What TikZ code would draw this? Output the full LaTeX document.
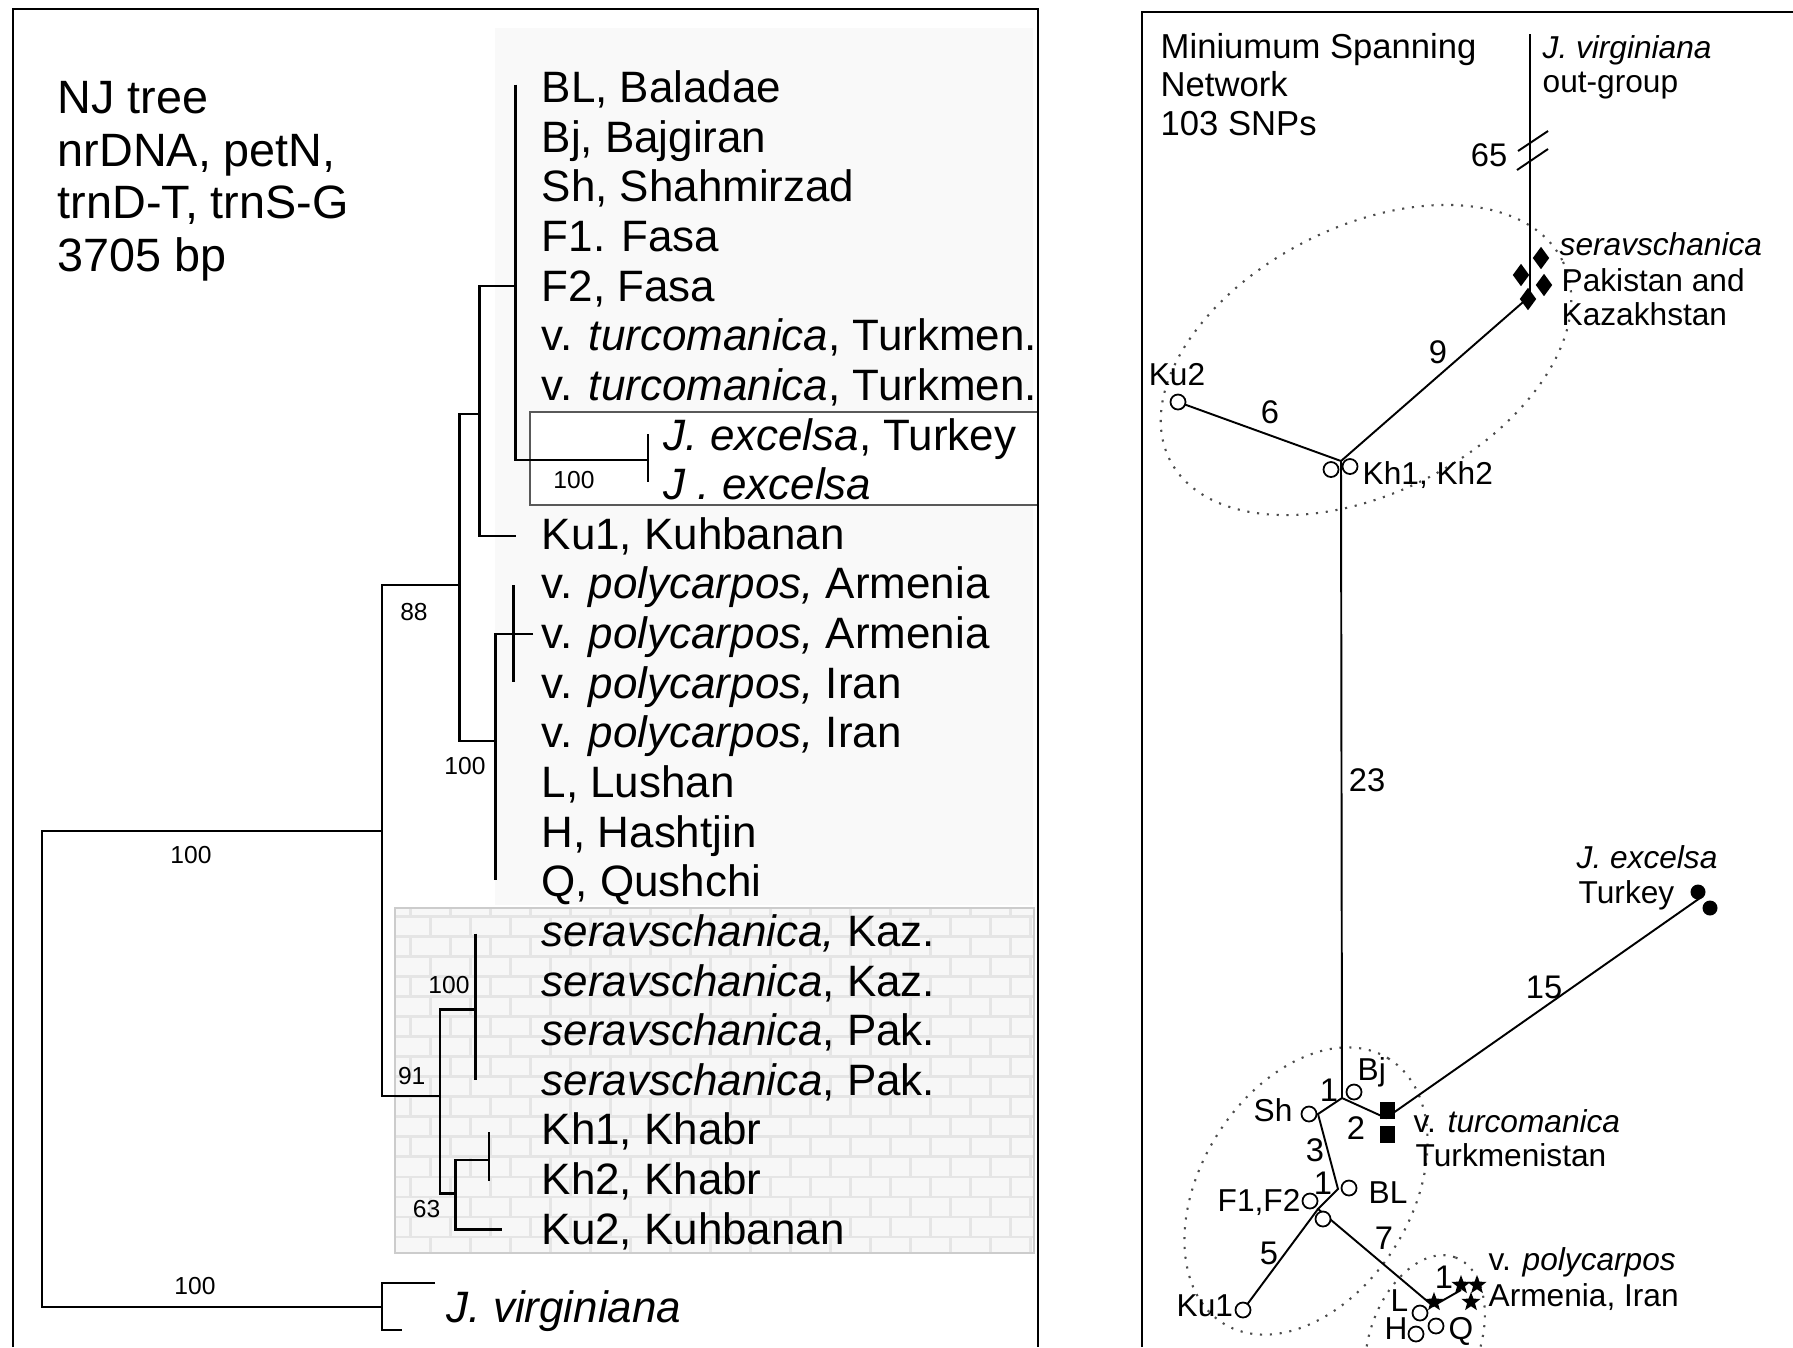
\documentclass[tikz,border=0pt]{standalone}
\usepackage{fontspec}
\setmainfont{Liberation Sans}
\usetikzlibrary{shapes.geometric,patterns}
\begin{document}
\begin{tikzpicture}[x=0.01cm,y=-0.01cm,
  boxline/.style={line width=0.8pt},
  treeline/.style={line width=0.65pt},
  taxon/.style={anchor=base west,inner sep=0pt,font=\fontsize{12.5}{14}\selectfont},
  boot/.style={inner sep=0pt,font=\fontsize{7}{8}\selectfont},
  ttl/.style={anchor=base west,inner sep=0pt,font=\fontsize{13.3}{15}\selectfont},
  nttl/.style={anchor=base west,inner sep=0pt,font=\fontsize{9.85}{11}\selectfont},
  nlab/.style={anchor=base west,inner sep=0pt,font=\fontsize{9}{10}\selectfont},
  nnum/.style={inner sep=0pt,font=\fontsize{9.3}{10}\selectfont},
  netline/.style={line width=0.55pt},
  ring/.style={dash pattern=on 0.6pt off 2.2pt,line width=0.6pt,black!70},
  hap/.style={circle,draw,fill=white,line width=0.5pt,inner sep=0pt,minimum size=0.15cm},
  dia/.style={diamond,fill=black,inner sep=0pt,minimum width=0.17cm,minimum height=0.23cm},
  sq/.style={rectangle,fill=black,inner sep=0pt,minimum width=0.15cm,minimum height=0.17cm},
  fdot/.style={circle,fill=black,inner sep=0pt,minimum size=0.15cm},
  starnode/.style={star,star points=5,star point ratio=2.4,fill=black,inner sep=0pt,minimum size=0.2cm}
]
\useasboundingbox (0,0) rectangle (1793,1347);
\fill[white] (0,0) rectangle (1793,1347);

% ---------- backgrounds of the tree panel ----------
\fill[gray!5] (495,28) rectangle (1033,905);
\draw[black!65,line width=0.5pt,fill=white] (530,412) rectangle (1038,505);
\fill[gray!6] (395,908) rectangle (1034,1253);
\fill[pattern=bricks,pattern color=gray!20] (395,908) rectangle (1034,1253);
\draw[gray!40,line width=0.4pt] (395,908) rectangle (1034,1253);

% ---------- frames ----------
\draw[boxline] (13,1347) -- (13,9) -- (1038,9) -- (1038,1347);
\draw[boxline] (1142,1347) -- (1142,12) -- (1793,12);

% ---------- NJ tree ----------
\draw[treeline] (381.7,831) -- (42,831) -- (42,1307) -- (381.7,1307);
\draw[treeline] (435,1283) -- (381.7,1283) -- (381.7,1330) -- (402,1330);
\draw[treeline] (459.4,585) -- (381.7,585) -- (381.7,1096) -- (440,1096);
\draw[treeline] (479.5,414) -- (459.4,414) -- (459.4,740.7) -- (495.6,740.7);
\draw[treeline] (515.6,285.7) -- (479.5,285.7) -- (479.5,535.7) -- (515.6,535.7);
\draw[treeline] (515.6,84.6) -- (515.6,460) -- (648,460);
\draw[treeline] (648,434) -- (648,482);
\draw[treeline] (533,634) -- (495.6,634) -- (495.6,880);
\draw[treeline] (513.6,585) -- (513.6,681.5);
\draw[treeline] (475.5,1009.4) -- (440,1009.4) -- (440,1193.6) -- (455.4,1193.6);
\draw[treeline] (475.5,933.7) -- (475.5,1080.4);
\draw[treeline] (488.9,1160) -- (455.4,1160) -- (455.4,1229.6) -- (502,1229.6);
\draw[treeline] (488.9,1132) -- (488.9,1180.8);

% titles
\node[ttl] (h1) at (57,113.7) {NJ tree};
\node[ttl] (h2) at (57,166.7) {nrDNA, petN,};
\node[ttl] (h3) at (57,218.7) {trnD-T, trnS-G};
\node[ttl] (h4) at (57,271.7) {3705 bp};

% taxa
\node[taxon] (t1) at (541,102.6) {BL, Baladae};
\node[taxon] (t2) at (541,152.2) {Bj, Bajgiran};
\node[taxon] (t3) at (541,201.9) {Sh, Shahmirzad};
\node[taxon] (t4) at (541,251.5) {F1. Fasa};
\node[taxon] (t5) at (541,301.1) {F2, Fasa};
\node[taxon] (t6) at (541,350.8) {v. \textit{turcomanica}, Turkmen.};
\node[taxon] (t7) at (541,400.4) {v. \textit{turcomanica}, Turkmen.};
\node[taxon] (t8) at (663,450.0) {\textit{J. excelsa}, Turkey};
\node[taxon] (t9) at (663,499.7) {\textit{J . excelsa}};
\node[taxon] (t10) at (541,549.3) {Ku1, Kuhbanan};
\node[taxon] (t11) at (541,598.9) {v. \textit{polycarpos,} Armenia};
\node[taxon] (t12) at (541,648.5) {v. \textit{polycarpos,} Armenia};
\node[taxon] (t13) at (541,698.2) {v. \textit{polycarpos,} Iran};
\node[taxon] (t14) at (541,747.8) {v. \textit{polycarpos,} Iran};
\node[taxon] (t15) at (541,797.4) {L, Lushan};
\node[taxon] (t16) at (541,847.1) {H, Hashtjin};
\node[taxon] (t17) at (541,896.7) {Q, Qushchi};
\node[taxon] (t18) at (541,946.3) {\textit{seravschanica,} Kaz.};
\node[taxon] (t19) at (541,996.0) {\textit{seravschanica}, Kaz.};
\node[taxon] (t20) at (541,1045.6) {\textit{seravschanica}, Pak.};
\node[taxon] (t21) at (541,1095.2) {\textit{seravschanica}, Pak.};
\node[taxon] (t22) at (541,1144.8) {Kh1, Khabr};
\node[taxon] (t23) at (541,1194.5) {Kh2, Khabr};
\node[taxon] (t24) at (541,1244.1) {Ku2, Kuhbanan};
\node[taxon] (tv) at (446,1322.7) {\textit{J. virginiana}};

% support values
\node[boot] (s1) at (574,480) {100};
\node[boot] (s2) at (414,612) {88};
\node[boot] (s3) at (465,766) {100};
\node[boot] (s4) at (191,855) {100};
\node[boot] (s5) at (449,985) {100};
\node[boot] (s6) at (411.7,1076) {91};
\node[boot] (s7) at (426.5,1209.5) {63};
\node[boot] (s8) at (195,1286) {100};

% ---------- spanning network ----------
\node[nttl] (m1) at (1160,58.8) {Miniumum Spanning};
\node[nttl] (m2) at (1160,96.4) {Network};
\node[nttl] (m3) at (1160,135.4) {103 SNPs};

% dotted groups
\begin{scope}[shift={(1366,360)},rotate=27]
  \draw[ring] (0,0) ellipse [x radius=2.2cm,y radius=1.33cm];
\end{scope}
\begin{scope}[shift={(1306,1191)},rotate=58]
  \draw[ring] (0,0) ellipse [x radius=1.56cm,y radius=1.05cm];
\end{scope}
\begin{scope}[shift={(1425,1340)},rotate=70]
  \draw[ring] (0,0) ellipse [x radius=0.88cm,y radius=0.55cm];
\end{scope}

% junctions
\coordinate (vtop) at (1530,34);
\coordinate (sj) at (1530,296);
\coordinate (khj) at (1341,461);
\coordinate (ku2c) at (1178,402);
\coordinate (bjj) at (1342,1098);
\coordinate (shj) at (1318,1114);
\coordinate (blj) at (1338,1189);
\coordinate (fj) at (1318,1209);
\coordinate (ku1c) at (1243,1310);
\coordinate (pj) at (1433,1306);
\coordinate (pj2) at (1461,1290);
\coordinate (tj) at (1386,1118);
\coordinate (ej) at (1700,898);
\coordinate (bk1a) at (1518,151);
\coordinate (bk1b) at (1548,131);
\coordinate (bk2a) at (1517,170);
\coordinate (bk2b) at (1548,149);

% edges
\draw[netline] (vtop) -- (sj) -- (khj) -- (bjj) -- (tj) -- (ej);
\draw[netline] (ku2c) -- (khj);
\draw[netline] (bjj) -- (shj) -- (blj) -- (fj) -- (pj) -- (pj2);
\draw[netline] (fj) -- (ku1c);
\draw[netline] (bk1a) -- (bk1b);
\draw[netline] (bk2a) -- (bk2b);

% haplotypes
\node[dia] (d1) at (1541,258) {};
\node[dia] (d2) at (1521,275) {};
\node[dia] (d3) at (1544,285) {};
\node[dia] (d4) at (1528,299) {};
\node[hap] (kh1) at (1331,469.5) {};
\node[hap] (kh2) at (1350,466.5) {};
\node[hap] (ku2) at (ku2c) {};
\node[hap] (bj) at (1354,1092) {};
\node[hap] (sh) at (1309,1114) {};
\node[hap] (bl) at (1349,1188) {};
\node[hap] (f1) at (1310,1201) {};
\node[hap] (f2) at (1323,1219) {};
\node[hap] (ku1) at (ku1c) {};
\node[hap] (hl) at (1420,1313) {};
\node[hap] (hq) at (1436,1326) {};
\node[hap] (hh) at (1416,1334) {};
\node[starnode] (p0) at (1434,1302) {};
\node[starnode] (p1) at (1461,1285) {};
\node[starnode] (p2) at (1477,1285) {};
\node[starnode] (p3) at (1471,1302) {};
\node[sq] (q1) at (1387,1110) {};
\node[sq] (q2) at (1387,1134) {};
\node[fdot] (e1) at (1698,892) {};
\node[fdot] (e2) at (1710,908) {};

% network labels
\node[nlab] (lv1) at (1542,58) {\textit{J. virginiana}};
\node[nlab] (lv2) at (1542,92.6) {out-group};
\node[nlab] (ls1) at (1559,255.6) {\textit{seravschanica}};
\node[nlab] (ls2) at (1561,291.6) {Pakistan and};
\node[nlab] (ls3) at (1561,325.6) {Kazakhstan};
\node[nlab,anchor=center] (lku2) at (1177,375) {Ku2};
\node[nlab] (lkh) at (1362,484.6) {Kh1, Kh2};
\node[nlab] (le1) at (1576,868.6) {\textit{J. excelsa}};
\node[nlab] (le2) at (1578,903.6) {Turkey};
\node[nlab] (lbj) at (1357,1080) {Bj};
\node[nlab] (lsh) at (1253,1121) {Sh};
\node[nlab] (lt1) at (1413,1132) {v. \textit{turcomanica}};
\node[nlab] (lt2) at (1415,1166) {Turkmenistan};
\node[nlab] (lbl) at (1368,1203) {BL};
\node[nlab] (lf) at (1217,1211.5) {F1,F2};
\node[nlab] (lku1) at (1176,1316.5) {Ku1};
\node[nlab] (lp1) at (1488,1270) {v. \textit{polycarpos}};
\node[nlab] (lp2) at (1488,1306.5) {Armenia, Iran};
\node[nlab] (ll) at (1390,1311) {L};
\node[nlab] (lh) at (1384,1339) {H};
\node[nlab] (lq) at (1448,1339) {Q};

% edge counts
\node[nnum] (n65) at (1489,155) {65};
\node[nnum] (n9) at (1438,352) {9};
\node[nnum] (n6) at (1270,412) {6};
\node[nnum] (n23) at (1367,780) {23};
\node[nnum] (n15) at (1544,987) {15};
\node[nnum] (n1a) at (1329,1090) {1};
\node[nnum] (n2) at (1356,1128) {2};
\node[nnum] (n3) at (1315,1150) {3};
\node[nnum] (n1b) at (1323,1183) {1};
\node[nnum] (n5) at (1269,1253) {5};
\node[nnum] (n7) at (1384,1238) {7};
\node[nnum] (n1c) at (1444,1277) {1};
\end{tikzpicture}
\end{document}
